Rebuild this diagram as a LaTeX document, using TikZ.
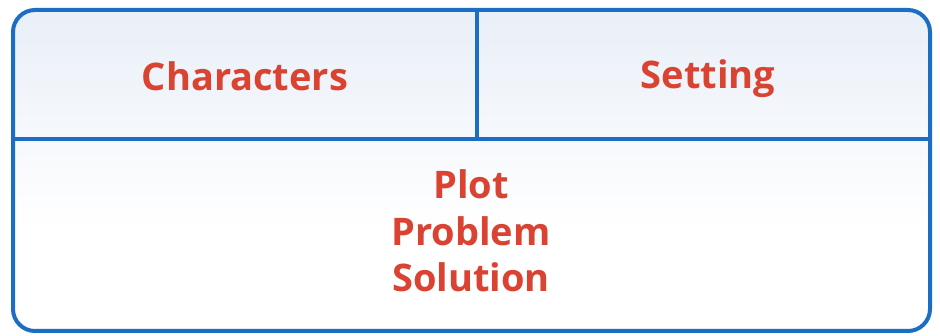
\documentclass[tikz,border=0pt]{standalone}
\usepackage{fontspec}
\setmainfont{Open Sans}
\definecolor{frameblue}{HTML}{1C6EC4}
\definecolor{textred}{HTML}{DA4232}
\definecolor{paleblue}{HTML}{E9EFF8}
\begin{document}
\begin{tikzpicture}[x=1pt,y=-1pt,
  frame/.style={draw=frameblue,line width=4pt},
  label/.style={text=textred,font=\fontsize{38}{45}\selectfont\bfseries,inner sep=0pt,anchor=base}]
\useasboundingbox (0,0) rectangle (940,336);
\fill[white] (0,0) rectangle (940,336);
\begin{scope}
\clip[rounded corners=22pt] (13,10) rectangle (930,331);
\shade[top color=paleblue,bottom color=white] (13,10) rectangle (930,230);
\end{scope}
\draw[frame,rounded corners=22pt] (13,10) rectangle (930,331);
\coordinate (ml) at (13,139);
\coordinate (mr) at (930,139);
\coordinate (vt) at (477,10);
\coordinate (vb) at (477,139);
\draw[frame] (ml) -- (mr);
\draw[frame] (vt) -- (vb);
\node[label] (chars) at (245,91) {Characters};
\node[label] (setting) at (708,89) {Setting};
\node[label] (plot) at (471,199) {Plot};
\node[label] (problem) at (471,246) {Problem};
\node[label] (solution) at (471,292) {Solution};
\end{tikzpicture}
\end{document}
